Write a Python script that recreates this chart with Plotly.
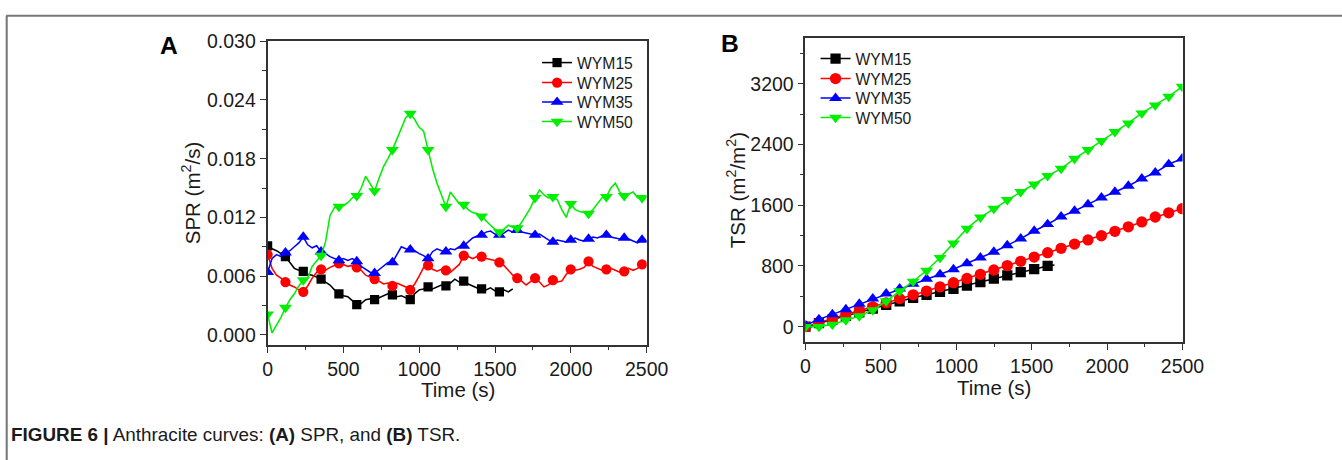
import plotly.graph_objects as go

# The captured picture comes out scaled by ~0.975 and the page body adds an 8 px margin,
# so layout positions are given in target picture pixels and converted here.
S = 0.975
K = 1 / S
OFF = 8
W = int(round(1342 / S - OFF))
H = int(round(460 / S - OFF))


def px(x):
    return (x / S - OFF) / W


def py(y):
    return 1 - (y / S - OFF) / H


SERIES = ["WYM15", "WYM25", "WYM35", "WYM50"]
COLORS = ["#000000", "#FF0000", "#0000FF", "#00EE00"]
SYMBOLS = ["square", "circle", "triangle-up", "triangle-down"]
MSIZE_A = [9, 10, 11, 11]
MSIZE_B = [10, 11, 11, 11]

# ---------------- Panel A: SPR (m2/s) ----------------
SPR_TIME = [round(i * 29.4, 1) for i in range(86)]
SPR_WYM15 = [0.0091, 0.0088, 0.0086, 0.0083, 0.0080, 0.0074, 0.0068, 0.0066, 0.0065, 0.0062,
             0.0061, 0.0059, 0.0057, 0.0054, 0.0051, 0.0046, 0.0042, 0.0040, 0.0039, 0.0035,
             0.0031, 0.0032, 0.0036, 0.0037, 0.0036, 0.0038, 0.0040, 0.0042, 0.0041, 0.0039,
             0.0040, 0.0038, 0.0036, 0.0042, 0.0046, 0.0047, 0.0049, 0.0047, 0.0049, 0.0051,
             0.0050, 0.0053, 0.0057, 0.0054, 0.0055, 0.0052, 0.0050, 0.0048, 0.0047, 0.0046,
             0.0048, 0.0045, 0.0044, 0.0046, 0.0044, 0.0047]
SPR_WYM25 = [0.0082, 0.0068, 0.0061, 0.0058, 0.0054, 0.0051, 0.0049, 0.0046, 0.0044, 0.0050,
             0.0058, 0.0064, 0.0067, 0.0066, 0.0069, 0.0071, 0.0073, 0.0072, 0.0070, 0.0071,
             0.0069, 0.0066, 0.0061, 0.0059, 0.0057, 0.0055, 0.0052, 0.0053, 0.0050, 0.0053,
             0.0051, 0.0049, 0.0046, 0.0052, 0.0060, 0.0069, 0.0071, 0.0067, 0.0065, 0.0067,
             0.0066, 0.0064, 0.0068, 0.0072, 0.0081, 0.0080, 0.0078, 0.0080, 0.0080, 0.0078,
             0.0077, 0.0076, 0.0074, 0.0071, 0.0066, 0.0061, 0.0058, 0.0055, 0.0051, 0.0055,
             0.0058, 0.0054, 0.0049, 0.0051, 0.0056, 0.0054, 0.0055, 0.0062, 0.0067, 0.0066,
             0.0067, 0.0069, 0.0075, 0.0070, 0.0068, 0.0066, 0.0067, 0.0068, 0.0066, 0.0064,
             0.0065, 0.0068, 0.0066, 0.0068, 0.0072, 0.0071]
SPR_WYM35 = [0.0064, 0.0078, 0.0082, 0.0080, 0.0084, 0.0086, 0.0090, 0.0094, 0.0100, 0.0092,
             0.0089, 0.0091, 0.0085, 0.0083, 0.0080, 0.0078, 0.0076, 0.0078, 0.0076, 0.0078,
             0.0075, 0.0070, 0.0067, 0.0064, 0.0063, 0.0067, 0.0071, 0.0074, 0.0074, 0.0082,
             0.0090, 0.0088, 0.0087, 0.0086, 0.0083, 0.0081, 0.0078, 0.0085, 0.0088, 0.0086,
             0.0085, 0.0088, 0.0087, 0.0090, 0.0091, 0.0095, 0.0099, 0.0101, 0.0102, 0.0105,
             0.0106, 0.0103, 0.0102, 0.0104, 0.0107, 0.0105, 0.0107, 0.0105, 0.0104, 0.0103,
             0.0102, 0.0103, 0.0100, 0.0097, 0.0095, 0.0097, 0.0096, 0.0095, 0.0097, 0.0099,
             0.0097, 0.0096, 0.0098, 0.0100, 0.0099, 0.0101, 0.0102, 0.0100, 0.0099, 0.0098,
             0.0099, 0.0098, 0.0096, 0.0094, 0.0097, 0.0096]
SPR_WYM50 = [0.0021, 0.0002, 0.0010, 0.0018, 0.0028, 0.0036, 0.0042, 0.0050, 0.0056, 0.0058,
             0.0070, 0.0076, 0.0081, 0.0095, 0.0122, 0.0130, 0.0131, 0.0132, 0.0135, 0.0140,
             0.0142, 0.0150, 0.0162, 0.0155, 0.0147, 0.0160, 0.0172, 0.0180, 0.0189, 0.0200,
             0.0212, 0.0222, 0.0226, 0.0220, 0.0212, 0.0208, 0.0189, 0.0170, 0.0155, 0.0142,
             0.0131, 0.0146, 0.0140, 0.0134, 0.0133, 0.0128, 0.0125, 0.0124, 0.0121, 0.0116,
             0.0112, 0.0108, 0.0105, 0.0108, 0.0112, 0.0110, 0.0109, 0.0115, 0.0122, 0.0130,
             0.0140, 0.0148, 0.0143, 0.0140, 0.0141, 0.0138, 0.0128, 0.0120, 0.0134, 0.0128,
             0.0126, 0.0125, 0.0124, 0.0128, 0.0134, 0.0140, 0.0141, 0.0150, 0.0155, 0.0146,
             0.0142, 0.0144, 0.0146, 0.0140, 0.0140, 0.0142]

# ---------------- Panel B: TSR (m2/m2) ----------------
TSR_TIME = [round(k * 89.2, 1) for k in range(29)]
TSR_WYM15_TIME = TSR_TIME[:19] + [1651]  # WYM15 record stops shortly after its last marker
TSR_WYM15 = [0, 48, 95, 142, 190, 238, 287, 335, 380, 420, 460, 500, 542, 588, 632, 676,
             718, 758, 800, 812]
TSR_WYM25 = [0, 58, 110, 160, 210, 262, 315, 370, 420, 470, 525, 580, 635, 690, 747, 805,
             862, 918, 975, 1032, 1088, 1143, 1198, 1257, 1316, 1380, 1445, 1500, 1555]
TSR_WYM35 = [20, 97, 163, 229, 300, 370, 435, 500, 565, 630, 690, 756, 835, 909, 984, 1072,
             1160, 1261, 1349, 1450, 1525, 1612, 1700, 1775, 1854, 1951, 2030, 2139, 2214]
TSR_WYM50 = [0, 0, 30, 88, 141, 220, 338, 470, 596, 740, 909, 1100, 1292, 1440, 1555, 1670,
             1775, 1876, 1986, 2082, 2214, 2329, 2447, 2566, 2680, 2812, 2917, 3031, 3163]

SPR = [SPR_WYM15, SPR_WYM25, SPR_WYM35, SPR_WYM50]
TSR = [TSR_WYM15, TSR_WYM25, TSR_WYM35, TSR_WYM50]
TSR_TIMES = [TSR_WYM15_TIME, TSR_TIME, TSR_TIME, TSR_TIME]

FONT = "Liberation Sans, Arial, sans-serif"
TXT = "#1a1a1a"
LW = 1.5 * K
fig = go.Figure()

# legend rows (target picture pixels): centre y of each row, x where the entry text starts
LEG_A_Y = [59, 79, 98.5, 118]
LEG_A_TX = 576
LEG_B_Y = [55, 75, 94.5, 114]
LEG_B_TX = 853

for i, (name, col, sym, vals) in enumerate(zip(SERIES, COLORS, SYMBOLS, SPR)):
    t = SPR_TIME[:len(vals)]
    sizes = [MSIZE_A[i] * K if k % 4 == 0 else 0 for k in range(len(vals))]
    fig.add_trace(go.Scatter(x=t, y=vals, mode="lines+markers", name=name,
                             line=dict(color=col, width=LW),
                             marker=dict(symbol=sym, size=sizes, color=col, opacity=1,
                                         line=dict(width=0)),
                             showlegend=False, xaxis="x", yaxis="y"))
    fig.add_trace(go.Scatter(x=[None], y=[None], mode="lines+markers", name=name,
                             line=dict(color=col, width=LW),
                             marker=dict(symbol=sym, size=MSIZE_A[i] * K, color=col, opacity=1),
                             legend="legend" + ("" if i == 0 else str(i + 1)),
                             xaxis="x", yaxis="y"))

for i, (name, col, sym, vals, tt) in enumerate(zip(SERIES, COLORS, SYMBOLS, TSR, TSR_TIMES)):
    t = tt[:len(vals)]
    sizes = [MSIZE_B[i] * K if tt[k] in TSR_TIME else 0 for k in range(len(vals))]
    fig.add_trace(go.Scatter(x=t, y=vals, mode="lines+markers", name=name,
                             line=dict(color=col, width=LW),
                             marker=dict(symbol=sym, size=sizes, color=col, opacity=1,
                                         line=dict(width=0)),
                             showlegend=False, xaxis="x2", yaxis="y2"))
    fig.add_trace(go.Scatter(x=[None], y=[None], mode="lines+markers", name=name,
                             line=dict(color=col, width=LW),
                             marker=dict(symbol=sym, size=MSIZE_B[i] * K, color=col, opacity=1),
                             legend="legend" + str(i + 5), xaxis="x2", yaxis="y2"))

axis_common = dict(showline=True, linecolor="#333333", linewidth=1.5 * K, mirror=True,
                   ticks="outside", ticklen=6 * K, tickwidth=1.3 * K, tickcolor="#333333",
                   showgrid=False, zeroline=False,
                   tickfont=dict(family=FONT, size=19 * K, color=TXT))
minor_common = dict(ticks="outside", ticklen=3.5 * K, tickwidth=1.2 * K, tickcolor="#333333")

layout = dict(
    width=W, height=H, margin=dict(l=0, r=0, t=0, b=0),
    paper_bgcolor="white", plot_bgcolor="white", showlegend=True,
    xaxis=dict(domain=[px(269), px(646)], range=[0, 2500], dtick=500, tick0=0,
               anchor="y", minor=dict(dtick=250, **minor_common), **axis_common),
    yaxis=dict(domain=[py(342), py(38)], range=[-0.00102, 0.0300], dtick=0.006, tick0=0,
               tickformat=".3f", anchor="x", minor=dict(dtick=0.003, **minor_common),
               **axis_common),
    xaxis2=dict(domain=[px(804), px(1179)], range=[0, 2500], dtick=500, tick0=0,
                anchor="y2", minor=dict(dtick=250, **minor_common), **axis_common),
    yaxis2=dict(domain=[py(339), py(35)], range=[-200, 3800], dtick=800, tick0=0,
                anchor="x2", minor=dict(dtick=400, **minor_common), **axis_common),
)

LEG_FONT = 15.3 * K
ITEM_H = LEG_FONT * 1.3 + 3  # plotly legend row height (page px)
for i in range(8):
    key = "legend" + ("" if i == 0 else str(i + 1))
    if i < 4:
        tx, cy = LEG_A_TX, LEG_A_Y[i]
    else:
        tx, cy = LEG_B_TX, LEG_B_Y[i - 4]
    top = cy - (ITEM_H / 2 + 5) * S
    left = tx - 40 * S
    layout[key] = dict(x=px(left), y=py(top), xanchor="left", yanchor="top",
                       bgcolor="rgba(0,0,0,0)", borderwidth=0,
                       font=dict(family=FONT, size=LEG_FONT, color=TXT))

fig.update_layout(**layout)

ann_font = dict(family=FONT, size=20 * K, color=TXT)
annotations = [
    dict(text="<b>A</b>", x=px(171), y=py(42), font=dict(family=FONT, size=24 * K, color="black")),
    dict(text="<b>B</b>", x=px(729), y=py(40), font=dict(family=FONT, size=24 * K, color="black")),
    dict(text="Time (s)", x=px(458), y=py(387), font=ann_font),
    dict(text="Time (s)", x=px(991), y=py(385), font=ann_font),
    dict(text="SPR (m<sup>2</sup>/s)", x=px(193), y=py(190), textangle=-90, font=ann_font),
    dict(text="TSR (m<sup>2</sup>/m<sup>2</sup>)", x=px(735), y=py(187), textangle=-90,
         font=ann_font),
]
for a in annotations:
    fig.add_annotation(xref="paper", yref="paper", showarrow=False,
                       xanchor="center", yanchor="middle", **a)

fig.add_annotation(xref="paper", yref="paper", showarrow=False, xanchor="left",
                   yanchor="middle", x=px(12), y=py(432),
                   text="<b>FIGURE 6 |</b> Anthracite curves: <b>(A)</b> SPR, and <b>(B)</b> TSR.",
                   font=dict(family=FONT, size=18.4 * K, color=TXT))

# page frame lines
fig.add_shape(type="line", xref="paper", yref="paper", x0=px(9), x1=1, y0=py(12.5),
              y1=py(12.5), line=dict(color="#777777", width=2 * K))
fig.add_shape(type="line", xref="paper", yref="paper", x0=px(9.5), x1=px(9.5), y0=0,
              y1=py(12.5), line=dict(color="#777777", width=2 * K))

fig.write_html("out.html")
